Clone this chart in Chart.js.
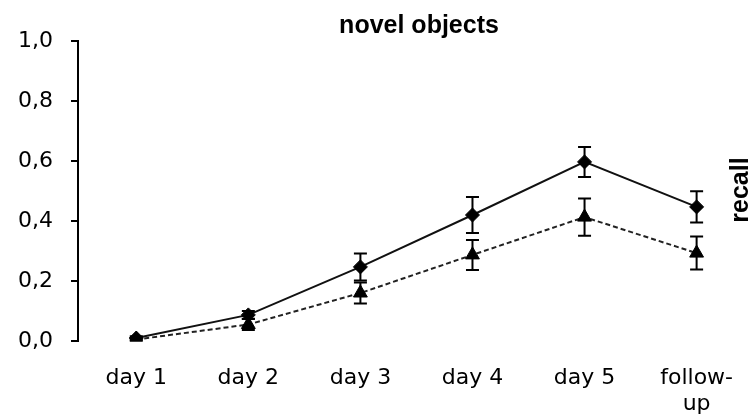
<!DOCTYPE html>
<html>
<head>
<meta charset="utf-8">
<script src="https://cdn.jsdelivr.net/npm/chart.js@4"></script>
<style>
  html, body { margin: 0; padding: 0; background: #fff; }
  #wrap { width: 751px; height: 418px; }
</style>
</head>
<body>
<div id="wrap"><canvas id="c" width="751" height="418"></canvas></div>
<script>
// ---- data ----
const categories = ['day 1', 'day 2', 'day 3', 'day 4', 'day 5', 'follow-up'];
const tickLabels = [['day 1'], ['day 2'], ['day 3'], ['day 4'], ['day 5'], ['follow-', 'up']];
const solidMeans = [0.010, 0.087, 0.247, 0.420, 0.597, 0.447];
const solidErr   = [0.006, 0.013, 0.045, 0.060, 0.050, 0.052];
const dashedMeans = [0.005, 0.055, 0.160, 0.287, 0.413, 0.293];
const dashedErr   = [0.004, 0.018, 0.035, 0.050, 0.062, 0.055];
const yTickValues = [0, 0.2, 0.4, 0.6, 0.8, 1.0];
const titleText = 'novel objects';
const sideText = 'recall';

const errorBars = {
  id: 'errorBars',
  afterDatasetsDraw(chart) {
    const ctx = chart.ctx;
    const xs = chart.scales.x, ys = chart.scales.y;
    const sets = [[solidMeans, solidErr], [dashedMeans, dashedErr]];
    ctx.save();
    ctx.strokeStyle = '#000';
    ctx.lineWidth = 2;
    sets.forEach(([m, e]) => {
      m.forEach((v, i) => {
        const x = xs.getPixelForValue(i);
        const yt = ys.getPixelForValue(v + e[i]);
        const yb = ys.getPixelForValue(Math.max(0, v - e[i]));
        ctx.beginPath();
        ctx.moveTo(x, yt); ctx.lineTo(x, yb);
        ctx.moveTo(x - 6.5, yt); ctx.lineTo(x + 6.5, yt);
        ctx.moveTo(x - 6.5, yb); ctx.lineTo(x + 6.5, yb);
        ctx.stroke();
      });
    });
    ctx.restore();
  }
};

const texts = {
  id: 'texts',
  afterDraw(chart) {
    const ctx = chart.ctx;
    const a = chart.chartArea;
    ctx.save();
    ctx.fillStyle = '#000';
    ctx.font = 'bold 25px "Liberation Sans", Arial, sans-serif';
    ctx.textAlign = 'center';
    ctx.textBaseline = 'alphabetic';
    ctx.fillText(titleText, (a.left + a.right) / 2 + 9, 33);
    ctx.translate(748, 190);
    ctx.rotate(-Math.PI / 2);
    ctx.fillText(sideText, 0, 0);
    ctx.restore();
  }
};

new Chart(document.getElementById('c'), {
  type: 'line',
  data: {
    datasets: [
      {
        data: solidMeans.map((y, i) => ({ x: i, y })),
        borderColor: '#111',
        borderWidth: 2,
        backgroundColor: '#000',
        pointBackgroundColor: '#000',
        pointBorderColor: '#000',
        pointStyle: 'rectRot',
        pointRadius: 7,
        pointBorderWidth: 1,
        tension: 0
      },
      {
        data: dashedMeans.map((y, i) => ({ x: i, y })),
        borderColor: '#222',
        borderWidth: 2,
        borderDash: [5, 3],
        backgroundColor: '#000',
        pointBackgroundColor: '#000',
        pointBorderColor: '#000',
        pointStyle: 'triangle',
        pointRadius: 8,
        pointBorderWidth: 1,
        tension: 0
      }
    ]
  },
  options: {
    responsive: false,
    devicePixelRatio: 1,
    animation: false,
    layout: { padding: { top: 41, right: 0, bottom: 0, left: 0 } },
    plugins: { legend: { display: false }, tooltip: { enabled: false }, title: { display: false } },
    scales: {
      x: {
        type: 'linear',
        min: -0.52,
        max: 5.405,
        afterBuildTicks(s) { s.ticks = categories.map((c, i) => ({ value: i })); },
        afterFit(s) { s.height = 77; },
        grid: { display: false },
        border: { display: false },
        ticks: {
          autoSkip: false,
          maxRotation: 0,
          padding: 17,
          color: '#000',
          font: { family: '"DejaVu Sans", sans-serif', size: 22, lineHeight: 1.15 },
          callback: (v) => tickLabels[v]
        }
      },
      y: {
        min: 0,
        max: 1,
        afterBuildTicks(s) { s.ticks = yTickValues.map(v => ({ value: v })); },
        afterFit(s) { s.width = 78; },
        border: { display: true, color: '#000', width: 2 },
        grid: { drawOnChartArea: false, drawTicks: true, tickLength: 7, color: '#000', lineWidth: 2 },
        ticks: {
          padding: 18,
          color: '#000',
          font: { family: '"DejaVu Sans", sans-serif', size: 22 },
          callback: (v) => v.toFixed(1).replace('.', ',')
        }
      }
    }
  },
  plugins: [errorBars, texts]
});
</script>
</body>
</html>
